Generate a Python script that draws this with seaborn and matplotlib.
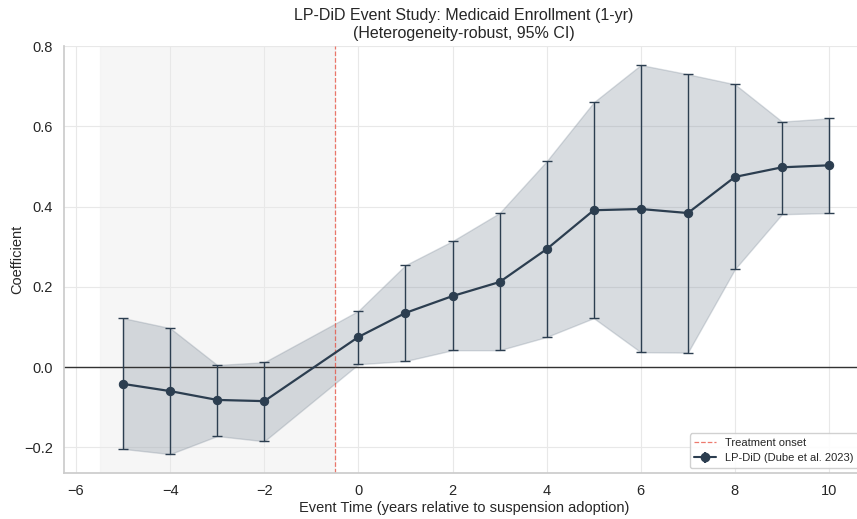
import numpy as np
import pandas as pd
import matplotlib
matplotlib.use("Agg")
import matplotlib.pyplot as plt
import seaborn as sns
from matplotlib.lines import Line2D

event_time = [-5, -4, -3, -2, 0, 1, 2, 3, 4, 5, 6, 7, 8, 9, 10]
coef = [-0.042, -0.060, -0.082, -0.085, 0.075, 0.135, 0.177, 0.212, 0.294, 0.391, 0.394, 0.384, 0.474, 0.498, 0.503]
ci_low = [-0.204, -0.217, -0.172, -0.185, 0.007, 0.015, 0.042, 0.042, 0.075, 0.122, 0.037, 0.036, 0.244, 0.381, 0.384]
ci_high = [0.122, 0.097, 0.005, 0.012, 0.140, 0.254, 0.314, 0.384, 0.513, 0.660, 0.753, 0.730, 0.705, 0.612, 0.620]

sns.set_theme(style="whitegrid")
plt.rcParams['font.family'] = ['Liberation Sans', 'DejaVu Sans']

df = pd.DataFrame({"t": event_time, "b": coef, "lo": ci_low, "hi": ci_high})
navy = "#2c3e50"

fig, ax = plt.subplots(figsize=(8.57, 5.19), dpi=100)
fig.subplots_adjust(left=0.075, right=1.008, top=0.911, bottom=0.088)

ax.axvspan(-5.5, -0.5, color="#f0f0f0", alpha=0.6, zorder=0)
ax.fill_between(df["t"], df["lo"], df["hi"], color="#7f8c9a", alpha=0.3, zorder=1)
ax.axhline(0, color="#333333", lw=1, zorder=2)
ax.axvline(-0.5, color="#e74c3c", ls="--", lw=0.9, alpha=0.75, zorder=2)
ax.errorbar(df["t"], df["b"], yerr=[df["b"] - df["lo"], df["hi"] - df["b"]],
            fmt="none", ecolor=navy, elinewidth=1, capsize=3.5, capthick=1, zorder=3)
sns.lineplot(data=df, x="t", y="b", ax=ax, color=navy, lw=1.6, marker="o",
             markersize=6, markeredgecolor=navy, zorder=4)

h_on = Line2D([], [], color="#e74c3c", ls="--", lw=0.9, alpha=0.75)
eb = ax.errorbar([], [], yerr=[], fmt="-o", color=navy, capsize=3)
ax.legend([h_on, eb], ["Treatment onset", "LP-DiD (Dube et al. 2023)"], loc="lower right",
          fontsize=8, frameon=True, framealpha=0.9, edgecolor="#cccccc")

ax.set_xlim(-6.25, 10.74)
ax.set_ylim(-0.265, 0.8)
ax.set_xticks([-6, -4, -2, 0, 2, 4, 6, 8, 10])
ax.set_yticks([-0.2, 0.0, 0.2, 0.4, 0.6, 0.8])
ax.set_xticklabels(["\u22126", "\u22124", "\u22122", "0", "2", "4", "6", "8", "10"])
ax.set_yticklabels(["\u22120.2", "0.0", "0.2", "0.4", "0.6", "0.8"])
ax.tick_params(labelsize=10.5, pad=2)
ax.grid(True, color="#e8e8e8", lw=0.8)
ax.set_xlabel("Event Time (years relative to suspension adoption)", fontsize=10.5, labelpad=2)
ax.set_ylabel("Coefficient", fontsize=10.5, labelpad=0)
ax.set_title("LP-DiD Event Study: Medicaid Enrollment (1-yr)\n(Heterogeneity-robust, 95% CI)", fontsize=11.5)
sns.despine(ax=ax)
for s in ["left", "bottom"]:
    ax.spines[s].set_color("#cccccc")

fig.savefig("out.png", dpi=100)
